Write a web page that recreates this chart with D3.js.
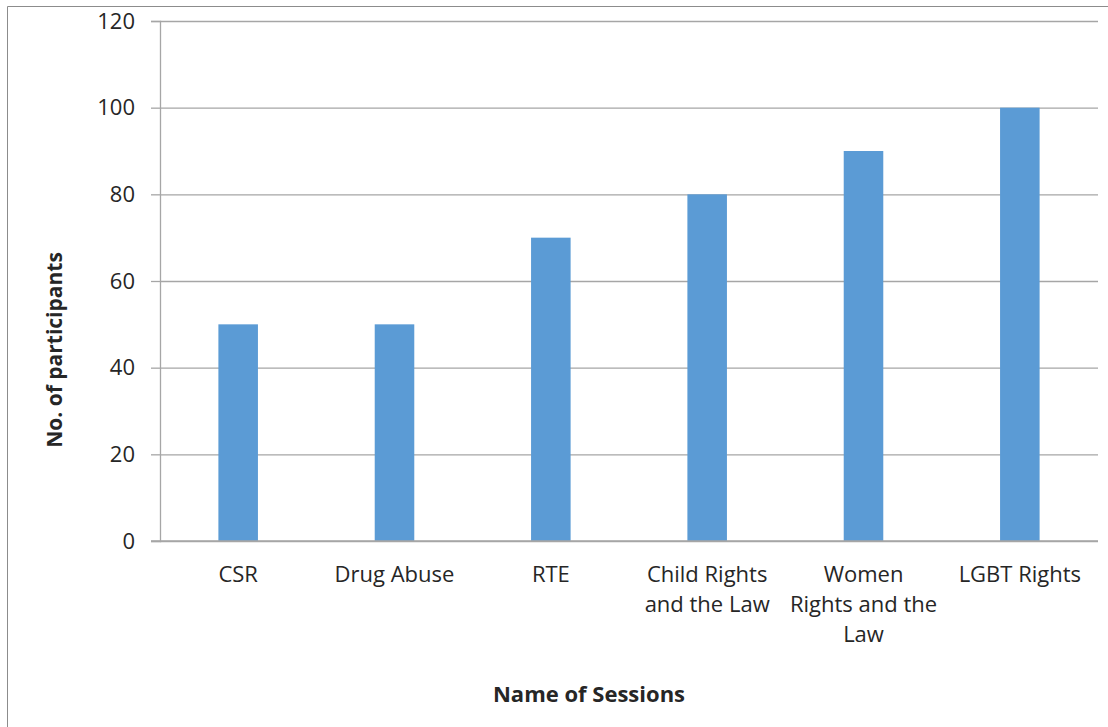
<!DOCTYPE html>
<html>
<head>
<meta charset="utf-8">
<script src="https://cdnjs.cloudflare.com/ajax/libs/d3/7.8.5/d3.min.js"></script>
<style>
  body { margin: 0; background: #fff; }
  text { font-family: "Open Sans", Lato, sans-serif; fill: #262626; }
</style>
</head>
<body>
<div id="chart"></div>
<script>
"use strict";

const sessions = [
  ["CSR"],
  ["Drug Abuse"],
  ["RTE"],
  ["Child Rights", "and the Law"],
  ["Women", "Rights and the", "Law"],
  ["LGBT Rights"]
];
const participants = [50, 50, 70, 80, 90, 100];
const yTicks = [0, 20, 40, 60, 80, 100, 120];

const w = 1108, h = 727;
const plotLeft = 160, plotRight = 1098, plotTop = 21, plotBottom = 541;

const svg = d3.select("#chart").append("svg")
  .attr("width", w).attr("height", h);

// outer chart border (only left and top fall inside the picture)
svg.append("path")
  .attr("d", "M7.5,727V6.5H1108")
  .attr("fill", "none")
  .attr("stroke", "#8c8c8c")
  .attr("stroke-width", 1);

const x = d3.scaleBand()
  .domain(d3.range(sessions.length))
  .range([plotLeft, plotRight])
  .paddingInner(0.747)
  .paddingOuter(0.3735);

const y = d3.scaleLinear().domain([0, 120]).range([plotBottom, plotTop]);

// gridlines
svg.append("g")
  .attr("transform", `translate(${plotLeft},0)`)
  .call(d3.axisLeft(y).tickValues(yTicks).tickSize(-(plotRight - plotLeft)).tickFormat(""))
  .call(g => g.select(".domain").remove())
  .call(g => g.selectAll("line").attr("stroke", "#a6a6a6").attr("stroke-width", 1.3));

const yAxis = svg.append("g")
  .attr("transform", `translate(${plotLeft},0)`)
  .call(d3.axisLeft(y).tickValues(yTicks).tickSize(9).tickPadding(16));
yAxis.select(".domain").attr("stroke", "#a6a6a6").attr("stroke-width", 1.3);
yAxis.selectAll("line").attr("stroke", "#a6a6a6").attr("stroke-width", 1.3);
yAxis.selectAll("text")
  .style("font-family", "'Open Sans', sans-serif")
  .style("font-size", "22px")
  .attr("fill", "#262626");

svg.append("g")
  .selectAll("rect")
  .data(participants)
  .join("rect")
  .attr("x", (d, i) => x(i))
  .attr("width", x.bandwidth())
  .attr("y", d => y(d))
  .attr("height", d => y(0) - y(d))
  .attr("fill", "#5b9bd5");

// zero baseline on top of bars
svg.append("line")
  .attr("x1", plotLeft - 9).attr("x2", plotRight)
  .attr("y1", y(0)).attr("y2", y(0))
  .attr("stroke", "#a6a6a6").attr("stroke-width", 1.3);

// category labels
const labels = svg.append("g")
  .selectAll("text")
  .data(sessions)
  .join("text")
  .attr("text-anchor", "middle")
  .style("font-size", "22px")
  .attr("transform", (d, i) => `translate(${x(i) + x.bandwidth() / 2},582)`);
labels.selectAll("tspan")
  .data(d => d)
  .join("tspan")
  .attr("x", 0)
  .attr("y", (d, i) => i * 30)
  .text(d => d);

svg.append("text")
  .attr("transform", "translate(62,350) rotate(-90)")
  .attr("text-anchor", "middle")
  .style("font-size", "21px")
  .style("font-weight", "bold")
  .attr("fill", "#000")
  .text("No. of participants");

svg.append("text")
  .attr("x", 589)
  .attr("y", 702)
  .attr("text-anchor", "middle")
  .style("font-size", "22px")
  .style("font-weight", "bold")
  .attr("fill", "#000")
  .text("Name of Sessions");
</script>
</body>
</html>
